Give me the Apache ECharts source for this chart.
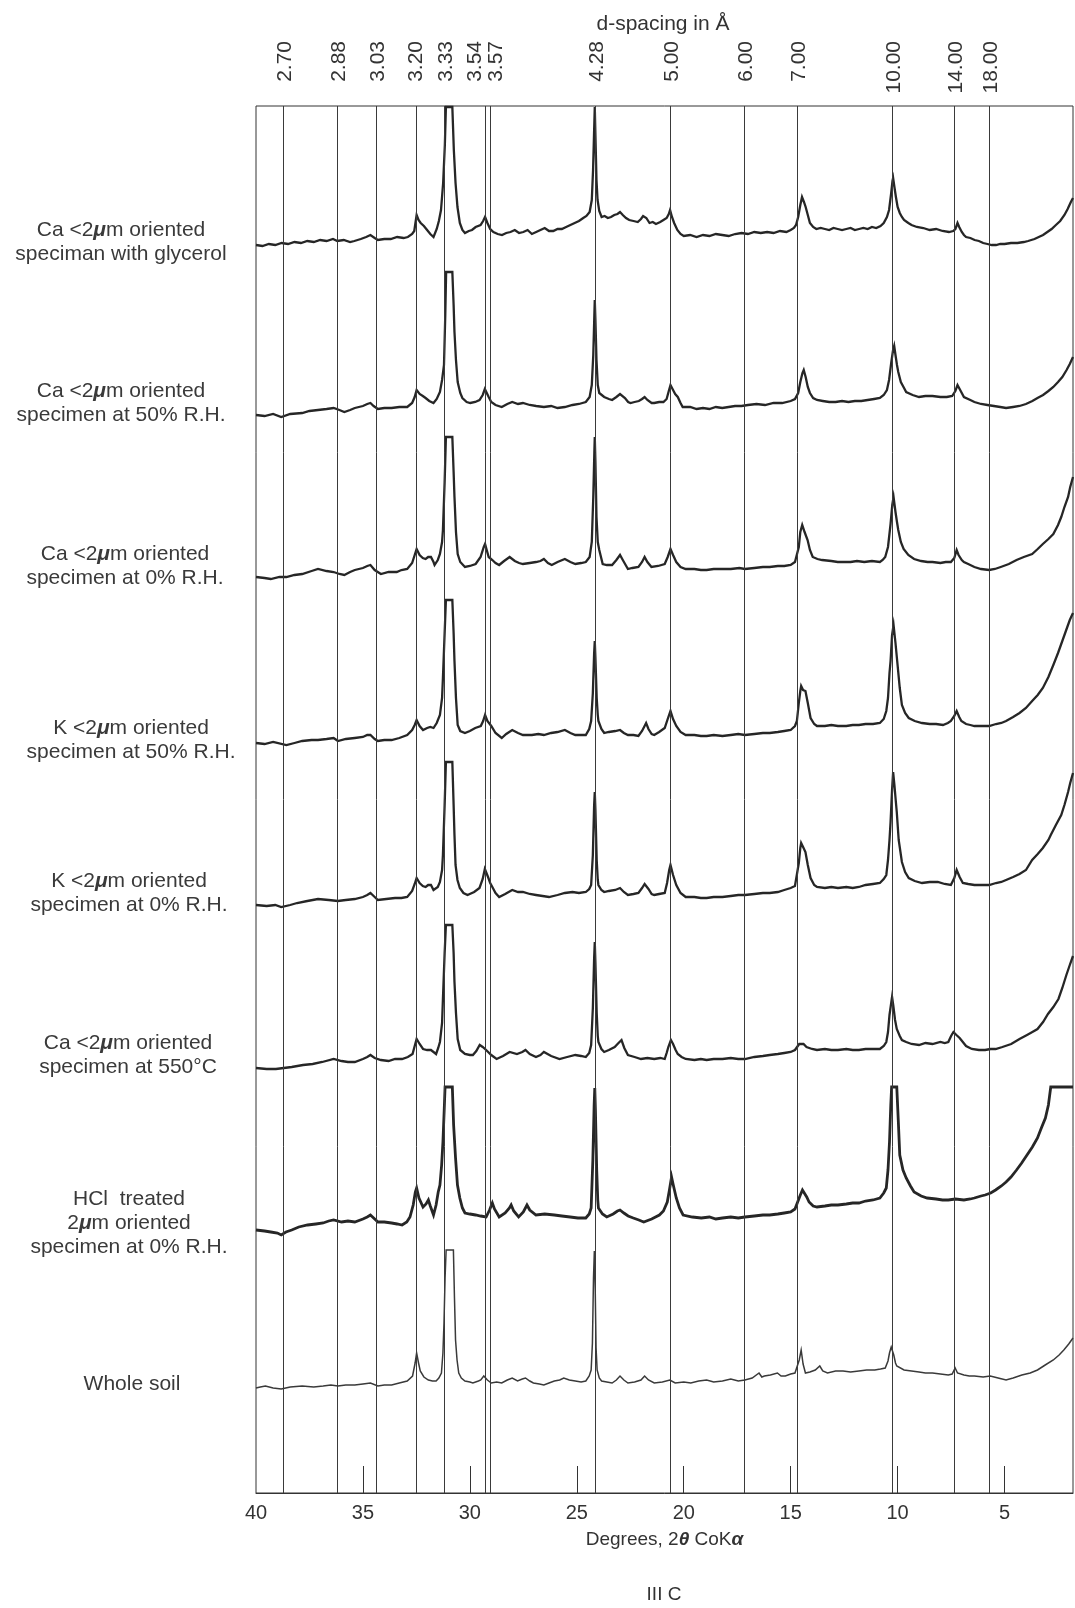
<!DOCTYPE html>
<html>
<head>
<meta charset="utf-8">
<title>III C</title>
<script src="https://cdn.jsdelivr.net/npm/echarts@6/dist/echarts.min.js"></script>
<style>
html,body{margin:0;padding:0;background:#fff}
#chart{width:1075px;height:1608px}
</style>
</head>
<body>
<div id="chart"></div>
<script>
// d-spacings (Å) of the reference lines
var dSpacing = [2.70, 2.88, 3.03, 3.20, 3.33, 3.54, 3.57, 4.28, 5.00, 6.00, 7.00, 10.00, 14.00, 18.00]
var dLabels = ['2.70', '2.88', '3.03', '3.20', '3.33', '3.54', '3.57', '4.28', '5.00', '6.00', '7.00', '10.00', '14.00', '18.00']
var degreeLabels = [40, 35, 30, 25, 20, 15, 10, 5]
var degreeTicks = [35, 30, 25, 20, 15, 10, 5]

var sampleNames = [
	'Ca <2μm oriented\nspeciman with glycerol',
	'Ca <2μm oriented\nspecimen at 50% R.H.',
	'Ca <2μm oriented\nspecimen at 0% R.H.',
	'K <2μm oriented\nspecimen at 50% R.H.',
	'K <2μm oriented\nspecimen at 0% R.H.',
	'Ca <2μm oriented\nspecimen at 550°C',
	'HCl  treated\n2μm oriented\nspecimen at 0% R.H.',
	'Whole soil'
]

// [2θ, intensity above the trace's own start level]
var t1 = [[40.0,0],[39.7,-1],[39.4,1],[39.1,0],[38.8,2],[38.5,1],[38.2,3],[37.9,2],[37.6,4],[37.3,3],[37.0,5],[36.7,4],[36.4,6],[36.2,4],[35.9,5],[35.6,3],[35.4,4],[35.1,6],[34.85,8],[34.65,10],[34.45,7],[34.3,5],[34.0,6],[33.7,6],[33.4,8],[33.1,7],[32.9,8],[32.7,11],[32.6,14],[32.49,30],[32.4,25],[32.3,22],[32.15,19],[32.0,15],[31.85,11],[31.7,8],[31.55,16],[31.45,24],[31.35,35],[31.25,62],[31.17,100],[31.12,138],[30.82,138],[30.75,95],[30.67,62],[30.58,38],[30.47,22],[30.35,15],[30.23,12],[30.05,14],[29.9,15],[29.73,18],[29.5,20],[29.38,24],[29.29,28],[29.18,22],[29.05,16],[28.9,13],[28.7,11],[28.5,10],[28.3,12],[28.1,13],[27.9,15],[27.7,12],[27.5,13],[27.3,15],[27.1,11],[26.9,13],[26.7,15],[26.5,17],[26.3,14],[26.1,14],[25.9,16],[25.7,16],[25.5,18],[25.3,20],[25.1,22],[24.9,24],[24.7,27],[24.55,29],[24.4,33],[24.3,45],[24.24,75],[24.19,115],[24.16,138],[24.13,110],[24.08,65],[24.03,45],[23.95,34],[23.84,28],[23.7,29],[23.55,27],[23.4,28],[23.25,30],[23.1,31],[22.98,33],[22.85,30],[22.7,27],[22.55,25],[22.35,24],[22.15,23],[22.0,26],[21.9,29],[21.83,30],[21.75,27],[21.6,22],[21.45,23],[21.3,21],[21.1,23],[20.95,25],[20.8,27],[20.7,31],[20.64,35],[20.55,28],[20.45,22],[20.3,15],[20.15,11],[20.0,9],[19.7,10],[19.4,8],[19.1,10],[18.8,9],[18.5,11],[18.2,10],[17.9,9],[17.6,11],[17.3,12],[17.0,11],[16.7,13],[16.4,12],[16.1,13],[15.8,12],[15.5,14],[15.2,13],[15.0,15],[14.85,17],[14.75,20],[14.65,28],[14.55,40],[14.47,48],[14.38,43],[14.3,38],[14.2,30],[14.1,22],[13.95,18],[13.8,16],[13.6,17],[13.4,16],[13.2,15],[13.0,17],[12.8,16],[12.6,15],[12.4,16],[12.2,17],[12.0,15],[11.8,16],[11.6,17],[11.4,16],[11.2,18],[11.0,17],[10.8,19],[10.65,22],[10.5,28],[10.4,35],[10.3,52],[10.24,64],[10.21,67],[10.15,58],[10.08,48],[10.0,38],[9.9,32],[9.8,28],[9.7,25],[9.5,22],[9.35,20],[9.1,18],[8.8,17],[8.5,15],[8.2,16],[7.9,14],[7.6,13],[7.4,14],[7.3,16],[7.2,22],[7.12,18],[7.0,13],[6.9,10],[6.8,8],[6.6,7],[6.4,5],[6.2,4],[6.0,2],[5.8,1],[5.6,0],[5.4,0],[5.2,1],[5.0,1],[4.7,2],[4.4,2],[4.1,3],[3.9,4],[3.6,6],[3.4,8],[3.2,10],[3.0,13],[2.8,16],[2.6,20],[2.4,24],[2.2,30],[2.05,36],[1.9,43],[1.8,47]]

var t2 = [[40,0],[39.6,-1],[39.2,1],[38.82,-2],[38.4,1],[37.84,2],[37.5,4],[37.1,5],[36.7,6],[36.37,7],[36.1,5],[35.87,3],[35.6,5],[35.38,7],[35.0,9],[34.8,11],[34.65,12],[34.5,9],[34.3,6],[34.0,7],[33.66,7],[33.3,8],[32.93,8],[32.7,12],[32.58,18],[32.49,25],[32.35,21],[32.2,19],[32.07,17],[31.9,14],[31.7,12],[31.55,16],[31.4,23],[31.3,35],[31.21,50],[31.15,100],[31.11,143],[30.82,143],[30.76,110],[30.72,83],[30.65,55],[30.57,33],[30.45,22],[30.35,17],[30.15,13],[29.98,12],[29.75,13],[29.55,15],[29.4,20],[29.3,26],[29.24,27],[29.12,18],[29.0,13],[28.8,10],[28.51,8],[28.25,11],[28.02,13],[27.75,11],[27.52,12],[27.2,10],[26.9,9],[26.54,8],[26.2,9],[25.9,7],[25.56,8],[25.2,10],[24.9,11],[24.58,13],[24.4,18],[24.3,30],[24.23,60],[24.18,100],[24.16,115],[24.13,95],[24.08,55],[24.02,30],[23.95,22],[23.72,18],[23.5,16],[23.35,15],[23.15,18],[22.98,21],[22.91,22],[22.75,17],[22.6,13],[22.49,12],[22.3,13],[22.1,14],[21.95,16],[21.83,18],[21.7,15],[21.5,12],[21.38,12],[21.15,13],[20.95,13],[20.8,16],[20.7,24],[20.62,30],[20.5,25],[20.4,21],[20.28,18],[20.15,12],[20.05,8],[19.7,8],[19.4,6],[19.1,7],[18.8,6],[18.5,8],[18.2,7],[17.9,8],[17.6,9],[17.3,9],[17.0,10],[16.6,11],[16.2,10],[15.8,12],[15.4,12],[15.0,14],[14.8,16],[14.65,22],[14.55,33],[14.45,42],[14.39,45],[14.3,38],[14.2,28],[14.1,22],[13.95,17],[13.77,15],[13.5,14],[13.2,13],[12.9,13],[12.6,14],[12.3,13],[12.0,14],[11.7,14],[11.4,15],[11.1,16],[10.83,17],[10.65,20],[10.5,25],[10.4,35],[10.3,52],[10.22,64],[10.16,69],[10.1,60],[10.03,50],[9.97,43],[9.85,33],[9.7,27],[9.6,23],[9.3,20],[9.0,18],[8.7,19],[8.37,19],[8.0,18],[7.7,18],[7.45,19],[7.3,24],[7.2,30],[7.14,32],[7.05,24],[6.9,18],[6.6,15],[6.41,13],[6.1,11],[5.8,10],[5.5,9],[5.2,8],[4.93,7],[4.6,8],[4.3,9],[4.0,11],[3.7,14],[3.46,17],[3.2,20],[2.95,24],[2.72,28],[2.5,33],[2.3,38],[2.1,45],[1.95,51],[1.8,58]]

var t3 = [[40,0],[39.6,-1],[39.31,-2],[38.9,0],[38.58,0],[38.2,2],[37.84,3],[37.4,6],[37.1,8],[36.7,6],[36.37,5],[36.1,3],[35.87,2],[35.6,5],[35.38,7],[35.0,9],[34.8,11],[34.65,12],[34.45,7],[34.16,3],[33.8,5],[33.42,5],[33.2,7],[32.93,8],[32.7,14],[32.58,22],[32.49,28],[32.35,22],[32.2,19],[32.07,18],[31.95,20],[31.82,20],[31.7,15],[31.65,12],[31.5,17],[31.4,23],[31.3,35],[31.26,47],[31.18,95],[31.12,140],[30.82,140],[30.76,105],[30.72,80],[30.65,45],[30.57,23],[30.45,15],[30.23,10],[30.0,11],[29.73,13],[29.5,20],[29.35,30],[29.29,33],[29.2,26],[29.12,20],[28.95,17],[28.8,14],[28.63,12],[28.4,16],[28.14,20],[27.9,16],[27.7,14],[27.52,13],[27.2,14],[26.91,15],[26.7,16],[26.54,18],[26.35,14],[26.17,12],[25.9,15],[25.56,18],[25.3,15],[25.07,13],[24.8,14],[24.58,15],[24.4,20],[24.3,35],[24.23,80],[24.18,125],[24.16,140],[24.13,115],[24.08,60],[24.02,35],[23.95,27],[23.79,13],[23.6,12],[23.35,12],[23.15,17],[22.98,22],[22.85,17],[22.61,8],[22.4,9],[22.12,10],[21.95,15],[21.83,20],[21.7,15],[21.51,10],[21.2,11],[20.89,13],[20.75,20],[20.62,28],[20.5,22],[20.35,15],[20.15,10],[19.91,8],[19.5,8],[19.2,7],[18.93,7],[18.6,8],[18.19,8],[17.8,8],[17.4,9],[17.14,8],[16.7,9],[16.3,10],[15.98,10],[15.6,11],[15.3,11],[15.0,12],[14.8,15],[14.71,17],[14.62,30],[14.55,45],[14.46,52],[14.35,45],[14.21,37],[14.1,27],[13.97,20],[13.75,18],[13.53,17],[13.1,16],[12.8,15],[12.55,15],[12.2,15],[11.9,16],[11.56,15],[11.2,16],[10.83,15],[10.7,17],[10.58,20],[10.45,30],[10.33,53],[10.25,72],[10.19,80],[10.1,65],[10.03,55],[9.97,47],[9.85,35],[9.72,28],[9.5,22],[9.23,18],[8.9,16],[8.6,15],[8.37,15],[8.0,14],[7.75,15],[7.51,15],[7.35,19],[7.24,27],[7.15,22],[7.0,17],[6.9,15],[6.7,13],[6.41,10],[6.1,8],[5.72,7],[5.45,8],[5.18,10],[4.8,13],[4.44,17],[4.1,20],[3.71,23],[3.45,28],[3.21,33],[2.95,38],[2.72,43],[2.5,52],[2.35,60],[2.2,70],[2.03,80],[1.93,90],[1.8,100]]

var t4 = [[40,0],[39.6,-1],[39.2,1],[38.58,-2],[38.2,0],[37.84,2],[37.4,3],[37.1,3],[36.7,4],[36.37,5],[36.17,2],[35.8,4],[35.38,5],[35.0,6],[34.8,8],[34.65,8],[34.45,4],[34.3,2],[34.0,3],[33.66,3],[33.3,5],[32.93,8],[32.7,13],[32.58,18],[32.49,23],[32.35,17],[32.19,13],[32.0,15],[31.85,16],[31.7,15],[31.55,20],[31.4,28],[31.3,45],[31.26,65],[31.18,110],[31.12,143],[30.82,143],[30.76,110],[30.72,82],[30.65,45],[30.57,18],[30.45,12],[30.23,10],[30.0,12],[29.75,15],[29.49,17],[29.38,22],[29.29,28],[29.18,22],[29.0,17],[28.8,10],[28.51,5],[28.3,9],[28.02,13],[27.75,10],[27.52,8],[27.1,8],[26.8,9],[26.54,8],[26.2,10],[25.9,11],[25.56,13],[25.3,10],[25.07,8],[24.8,8],[24.58,8],[24.42,14],[24.33,22],[24.25,50],[24.19,90],[24.16,102],[24.13,85],[24.07,45],[24.02,28],[23.99,22],[23.85,14],[23.72,10],[23.5,11],[23.2,12],[22.98,13],[22.8,10],[22.61,8],[22.35,8],[22.12,7],[21.95,12],[21.83,17],[21.76,20],[21.65,14],[21.5,9],[21.38,8],[21.15,11],[20.89,15],[20.75,24],[20.62,32],[20.5,24],[20.35,17],[20.15,11],[19.91,8],[19.5,8],[19.2,7],[18.93,7],[18.6,8],[18.19,7],[17.8,8],[17.45,9],[17.14,8],[16.7,9],[16.3,10],[15.98,10],[15.6,11],[15.3,12],[15.0,13],[14.8,17],[14.71,22],[14.62,40],[14.55,52],[14.51,57],[14.42,53],[14.31,52],[14.2,40],[14.07,25],[13.9,19],[13.77,17],[13.4,17],[13.1,18],[12.79,17],[12.4,17],[12.1,18],[11.81,18],[11.5,19],[11.15,19],[10.83,20],[10.65,24],[10.53,32],[10.45,45],[10.38,70],[10.33,82],[10.26,108],[10.19,118],[10.1,100],[10.02,82],[9.9,55],[9.8,38],[9.65,30],[9.48,25],[9.2,22],[8.86,20],[8.5,19],[8.2,19],[7.88,18],[7.65,20],[7.51,22],[7.35,27],[7.24,32],[7.12,26],[7.02,22],[6.8,19],[6.6,18],[6.41,17],[6.1,17],[5.72,17],[5.4,19],[5.15,20],[4.93,22],[4.6,26],[4.3,30],[4.0,35],[3.71,42],[3.45,48],[3.21,55],[2.95,66],[2.72,78],[2.5,90],[2.3,102],[2.1,114],[1.95,123],[1.8,130]]

var t5 = [[40,0],[39.5,-1],[39.1,0],[38.82,-2],[38.4,0],[38.08,2],[37.6,4],[37.1,6],[36.6,5],[36.17,4],[35.8,5],[35.38,6],[35.0,8],[34.8,10],[34.65,12],[34.45,8],[34.3,5],[33.91,6],[33.5,7],[33.2,7],[32.93,8],[32.7,14],[32.58,21],[32.49,27],[32.35,22],[32.2,19],[32.07,18],[31.95,20],[31.82,20],[31.7,15],[31.65,13],[31.5,18],[31.4,23],[31.3,35],[31.26,50],[31.18,100],[31.12,143],[30.82,143],[30.76,100],[30.72,70],[30.67,40],[30.58,25],[30.47,17],[30.3,12],[30.11,10],[29.8,13],[29.55,17],[29.4,26],[29.3,36],[29.24,38],[29.15,28],[29.05,22],[28.95,18],[28.8,12],[28.63,8],[28.35,11],[28.02,15],[27.75,13],[27.52,13],[27.2,11],[26.91,10],[26.6,9],[26.3,8],[25.9,10],[25.56,12],[25.2,13],[24.9,12],[24.58,13],[24.42,16],[24.33,20],[24.25,50],[24.19,100],[24.16,113],[24.13,95],[24.07,45],[24.02,25],[23.99,20],[23.85,15],[23.72,13],[23.5,14],[23.2,15],[22.98,17],[22.8,13],[22.61,10],[22.35,11],[22.12,12],[21.95,17],[21.83,21],[21.76,23],[21.65,16],[21.5,11],[21.38,10],[21.15,11],[20.89,12],[20.78,22],[20.68,35],[20.62,40],[20.5,30],[20.35,20],[20.15,12],[19.91,8],[19.5,8],[19.2,7],[18.93,7],[18.6,8],[18.19,8],[17.8,9],[17.45,10],[17.14,10],[16.7,11],[16.3,12],[15.98,12],[15.6,13],[15.3,15],[15.0,17],[14.8,19],[14.71,20],[14.62,42],[14.55,57],[14.51,62],[14.42,58],[14.31,53],[14.2,40],[14.07,27],[13.9,20],[13.77,18],[13.4,17],[13.1,18],[12.79,17],[12.4,18],[12.1,17],[11.81,18],[11.5,20],[11.15,21],[10.83,22],[10.65,26],[10.53,30],[10.45,45],[10.38,65],[10.33,83],[10.26,115],[10.21,133],[10.15,120],[10.09,105],[10.04,93],[9.95,65],[9.8,43],[9.65,33],[9.48,27],[9.2,24],[8.86,22],[8.5,23],[8.12,23],[7.8,21],[7.51,20],[7.35,27],[7.24,35],[7.1,28],[6.95,22],[6.7,21],[6.41,20],[6.1,20],[5.72,20],[5.4,22],[5.15,23],[4.93,25],[4.6,28],[4.3,31],[4.0,35],[3.71,45],[3.45,51],[3.21,57],[2.95,65],[2.84,70],[2.6,80],[2.35,90],[2.2,100],[2.03,113],[1.93,122],[1.8,132]]

var t6 = [[40,0],[39.5,-1],[39.07,-1],[38.7,0],[38.33,1],[37.8,3],[37.35,4],[36.9,6],[36.37,9],[36.0,7],[35.7,6],[35.38,6],[35.0,9],[34.8,11],[34.65,13],[34.45,10],[34.16,8],[33.8,7],[33.5,9],[33.17,9],[32.9,11],[32.68,14],[32.58,22],[32.49,29],[32.35,24],[32.19,19],[32.0,18],[31.82,18],[31.7,16],[31.58,14],[31.48,20],[31.4,26],[31.3,45],[31.26,69],[31.18,115],[31.12,143],[30.82,143],[30.76,115],[30.72,86],[30.65,55],[30.57,29],[30.45,18],[30.23,14],[30.0,13],[29.86,13],[29.7,17],[29.54,23],[29.4,21],[29.24,18],[29.0,13],[28.75,9],[28.45,12],[28.14,16],[27.8,14],[27.55,16],[27.4,18],[27.2,14],[26.91,11],[26.7,13],[26.54,16],[26.2,12],[25.81,9],[25.45,11],[25.07,13],[24.8,12],[24.58,11],[24.42,15],[24.33,23],[24.25,60],[24.19,110],[24.16,126],[24.13,105],[24.07,55],[24.02,32],[23.99,26],[23.85,19],[23.72,16],[23.5,18],[23.23,21],[23.05,25],[22.91,28],[22.78,20],[22.61,13],[22.3,11],[22.0,9],[21.7,10],[21.38,9],[21.1,10],[20.89,9],[20.8,15],[20.72,21],[20.6,28],[20.5,24],[20.38,18],[20.28,14],[20.1,11],[19.91,9],[19.5,8],[19.2,9],[18.93,8],[18.6,9],[18.19,9],[17.8,10],[17.45,9],[17.14,9],[16.7,11],[16.3,12],[15.98,13],[15.6,14],[15.3,15],[15.0,16],[14.8,18],[14.71,19],[14.6,24],[14.51,26],[14.4,24],[14.26,21],[14.0,19],[13.77,18],[13.4,19],[13.1,18],[12.79,18],[12.4,19],[12.1,18],[11.81,18],[11.5,19],[11.15,19],[10.83,19],[10.65,22],[10.53,26],[10.45,36],[10.38,53],[10.3,65],[10.26,71],[10.2,62],[10.12,48],[10.04,39],[9.9,32],[9.8,28],[9.6,26],[9.35,24],[9.0,23],[8.7,25],[8.37,24],[8.0,26],[7.8,25],[7.63,26],[7.5,32],[7.39,36],[7.25,33],[7.1,30],[7.02,28],[6.8,22],[6.53,19],[6.2,18],[5.91,18],[5.65,19],[5.42,19],[5.1,21],[4.69,24],[4.3,29],[3.95,33],[3.7,36],[3.46,39],[3.2,46],[2.97,54],[2.72,61],[2.48,69],[2.3,80],[2.11,93],[1.95,103],[1.8,112]]

var t7 = [[40,0],[39.6,-1],[39.31,-2],[39.0,-3],[38.82,-5],[38.6,-2],[38.33,0],[38.0,3],[37.59,5],[37.2,6],[36.86,7],[36.6,9],[36.37,10],[36.0,8],[35.7,9],[35.38,8],[35.0,11],[34.8,13],[34.65,15],[34.45,11],[34.3,8],[34.0,8],[33.66,7],[33.4,6],[33.17,5],[32.95,8],[32.8,13],[32.65,25],[32.55,38],[32.49,42],[32.38,32],[32.19,23],[32.05,26],[31.94,30],[31.85,24],[31.7,15],[31.58,25],[31.48,38],[31.4,45],[31.32,65],[31.26,88],[31.2,120],[31.16,143],[30.82,143],[30.76,105],[30.67,72],[30.58,45],[30.47,32],[30.35,22],[30.23,17],[30.0,16],[29.73,15],[29.5,14],[29.24,13],[29.08,20],[28.95,27],[28.85,21],[28.63,13],[28.35,17],[28.15,22],[28.07,25],[27.95,19],[27.72,13],[27.5,18],[27.33,25],[27.2,20],[26.91,15],[26.5,16],[26.05,15],[25.7,14],[25.31,13],[24.95,12],[24.58,12],[24.42,16],[24.33,22],[24.25,70],[24.19,125],[24.16,142],[24.13,120],[24.07,60],[24.02,30],[23.99,22],[23.8,16],[23.6,13],[23.3,16],[23.1,19],[22.98,20],[22.8,17],[22.6,14],[22.36,12],[22.1,10],[21.87,8],[21.5,11],[21.14,15],[20.95,19],[20.77,28],[20.67,40],[20.57,53],[20.5,46],[20.35,32],[20.2,22],[20.03,15],[19.6,13],[19.18,12],[18.8,13],[18.5,11],[18.19,12],[17.8,13],[17.45,12],[17.14,13],[16.7,14],[16.3,15],[15.98,15],[15.6,16],[15.3,17],[15.0,18],[14.8,21],[14.71,23],[14.55,35],[14.45,40],[14.39,40],[14.25,33],[14.14,28],[13.95,24],[13.77,23],[13.4,24],[13.1,25],[12.79,25],[12.4,26],[12.1,27],[11.81,27],[11.5,29],[11.15,30],[10.83,32],[10.65,37],[10.53,42],[10.45,60],[10.38,88],[10.32,125],[10.28,143],[10.04,143],[9.97,110],[9.9,75],[9.75,60],[9.6,52],[9.4,44],[9.23,38],[8.9,34],[8.62,32],[8.2,31],[7.9,30],[7.63,30],[7.3,31],[6.9,30],[6.6,31],[6.41,32],[6.1,34],[5.91,35],[5.65,37],[5.42,40],[5.15,44],[4.93,48],[4.7,53],[4.44,60],[4.2,67],[3.95,75],[3.7,83],[3.46,92],[3.28,102],[3.09,112],[2.95,125],[2.84,143],[1.8,143]]

var t8 = [[40,0],[39.8,1],[39.56,2],[39.2,0],[38.82,-1],[38.4,1],[37.84,2],[37.3,1],[36.86,2],[36.5,3],[36.17,2],[35.8,3],[35.38,3],[35.0,4],[34.65,5],[34.3,2],[34.0,3],[33.66,3],[33.3,5],[32.93,7],[32.68,12],[32.56,25],[32.49,35],[32.4,25],[32.32,17],[32.15,11],[31.94,8],[31.75,7],[31.58,7],[31.45,10],[31.33,15],[31.26,35],[31.21,65],[31.16,110],[31.11,138],[30.77,138],[30.72,90],[30.67,48],[30.6,28],[30.52,15],[30.4,10],[30.23,7],[30.0,6],[29.86,5],[29.6,7],[29.49,8],[29.35,12],[29.29,13],[29.18,8],[29.0,5],[28.75,6],[28.51,5],[28.25,8],[28.02,10],[27.77,7],[27.55,9],[27.4,10],[27.2,7],[27.03,5],[26.75,4],[26.54,3],[26.3,5],[26.05,7],[25.8,8],[25.61,10],[25.35,8],[25.07,7],[24.8,6],[24.58,7],[24.42,12],[24.33,18],[24.27,45],[24.22,110],[24.18,137],[24.14,100],[24.1,40],[24.05,18],[23.95,10],[23.84,7],[23.6,6],[23.35,5],[23.15,8],[22.98,12],[22.8,8],[22.61,5],[22.3,6],[22.0,8],[21.83,12],[21.65,8],[21.38,5],[21.0,6],[20.65,8],[20.4,5],[20.0,6],[19.67,5],[19.3,7],[18.93,8],[18.6,6],[18.19,7],[17.8,9],[17.45,7],[17.14,8],[16.8,10],[16.48,15],[16.35,11],[16.23,12],[15.95,13],[15.62,15],[15.45,12],[15.25,12],[15.0,14],[14.8,15],[14.71,15],[14.6,28],[14.51,38],[14.42,24],[14.31,15],[14.1,16],[13.85,18],[13.64,22],[13.5,17],[13.28,15],[12.9,17],[12.55,17],[12.2,16],[11.81,17],[11.45,18],[11.07,18],[10.8,19],[10.58,20],[10.45,27],[10.38,35],[10.3,41],[10.26,43],[10.18,33],[10.1,25],[10.04,22],[9.7,18],[9.35,17],[9.0,16],[8.7,15],[8.37,15],[8.0,14],[7.63,13],[7.45,14],[7.31,20],[7.2,15],[6.9,13],[6.65,12],[6.41,12],[6.0,11],[5.67,12],[5.3,10],[4.93,8],[4.6,10],[4.19,13],[3.8,15],[3.46,18],[3.1,23],[2.72,28],[2.45,33],[2.23,38],[2.0,44],[1.8,50]]

var traces = [t1, t2, t3, t4, t5, t6, t7, t8]

// 布局
var FONT = '"Liberation Sans", Arial, sans-serif'
var LAMBDA = 1.7902 // CoKα, Å
var traceOffset = [1248, 1078, 916, 750, 588, 425, 263, 105]
var traceWidth = [2.3, 2.3, 2.3, 2.3, 2.3, 2.3, 2.8, 1.5]
var labelPos = [[121, 242], [121, 403], [125, 566], [131, 740], [129, 893], [128, 1055], [129, 1223], [132, 1384]]
var dLabelNudge = {'3.54': -12, '3.57': 4, '3.20': -2}

function twoTheta(d){
	return 2 * Math.asin(LAMBDA / (2 * d)) * 180 / Math.PI
}

var chart = echarts.init(document.getElementById('chart'))

var series = traces.map(function(t, i){
	return {
		type: 'line',
		name: sampleNames[i],
		showSymbol: false,
		silent: true,
		z: 3,
		lineStyle: {color: i == 7 ? '#3a3a3a' : '#262626', width: traceWidth[i], join: 'miter'},
		data: t.map(function(p){ return [p[0], p[1] + traceOffset[i]] })
	}
})
// 竖线
series[0].markLine = {
	silent: true,
	symbol: 'none',
	animation: false,
	label: {show: false},
	lineStyle: {color: '#3a3a3a', width: 1, type: 'solid'},
	data: dSpacing.map(function(d){ return {xAxis: twoTheta(d)} })
}

var option = {
	animation: false,
	backgroundColor: '#fff',
	grid: {left: 256, right: 2, top: 106, bottom: 115, show: true, borderColor: '#333', borderWidth: 1},
	xAxis: {
		type: 'value',
		min: 1.8,
		max: 40,
		inverse: true,
		axisLine: {lineStyle: {color: '#333', width: 1}},
		axisTick: {show: true, inside: true, length: 27, customValues: degreeTicks, lineStyle: {color: '#333'}},
		axisLabel: {customValues: degreeLabels, fontSize: 20, fontFamily: FONT, color: '#333', margin: 10},
		splitLine: {show: false},
		name: 'Degrees, 2{b|θ} CoK{b|α}',
		nameLocation: 'middle',
		nameGap: 47,
		nameTextStyle: {
			fontSize: 19, fontFamily: FONT, color: '#333', verticalAlign: 'middle',
			rich: {b: {fontSize: 19, fontFamily: FONT, color: '#333', fontStyle: 'italic', fontWeight: 'bold'}}
		}
	},
	yAxis: {type: 'value', min: 0, max: 1387, show: false},
	series: series
}
chart.setOption(option)

// 文本
function buildGraphics(){
	var g = []
	dSpacing.forEach(function(d, i){
		var x = chart.convertToPixel({xAxisIndex: 0}, twoTheta(d)) + 2 + (dLabelNudge[dLabels[i]] || 0)
		g.push({
			type: 'text', x: x, y: 41, rotation: Math.PI / 2, silent: true,
			style: {text: dLabels[i], fontSize: 21, fontFamily: FONT, fill: '#333',
				align: 'right', textAlign: 'right', verticalAlign: 'middle', textVerticalAlign: 'middle'}
		})
	})
	sampleNames.forEach(function(name, i){
		g.push({
			type: 'text', x: labelPos[i][0], y: labelPos[i][1], silent: true,
			style: {
				text: name.replace(/μ/g, '{m|μ}'),
				fontSize: 21, fontFamily: FONT, fill: '#3a3a3a', lineHeight: 24,
				align: 'center', textAlign: 'center', verticalAlign: 'middle', textVerticalAlign: 'middle',
				rich: {m: {fontSize: 21, fontFamily: FONT, fill: '#3a3a3a', fontStyle: 'italic', fontWeight: 'bold', lineHeight: 24}}
			}
		})
	})
	g.push({
		type: 'text', x: 663, y: 24, silent: true,
		style: {text: 'd-spacing in Å', fontSize: 21, fontFamily: FONT, fill: '#333',
			align: 'center', textAlign: 'center', verticalAlign: 'middle', textVerticalAlign: 'middle'}
	})
	g.push({
		type: 'text', x: 664, y: 1595, silent: true,
		style: {text: 'III C', fontSize: 19, fontFamily: FONT, fill: '#333',
			align: 'center', textAlign: 'center', verticalAlign: 'middle', textVerticalAlign: 'middle'}
	})
	return g
}
chart.setOption({graphic: buildGraphics()})
</script>
</body>
</html>
